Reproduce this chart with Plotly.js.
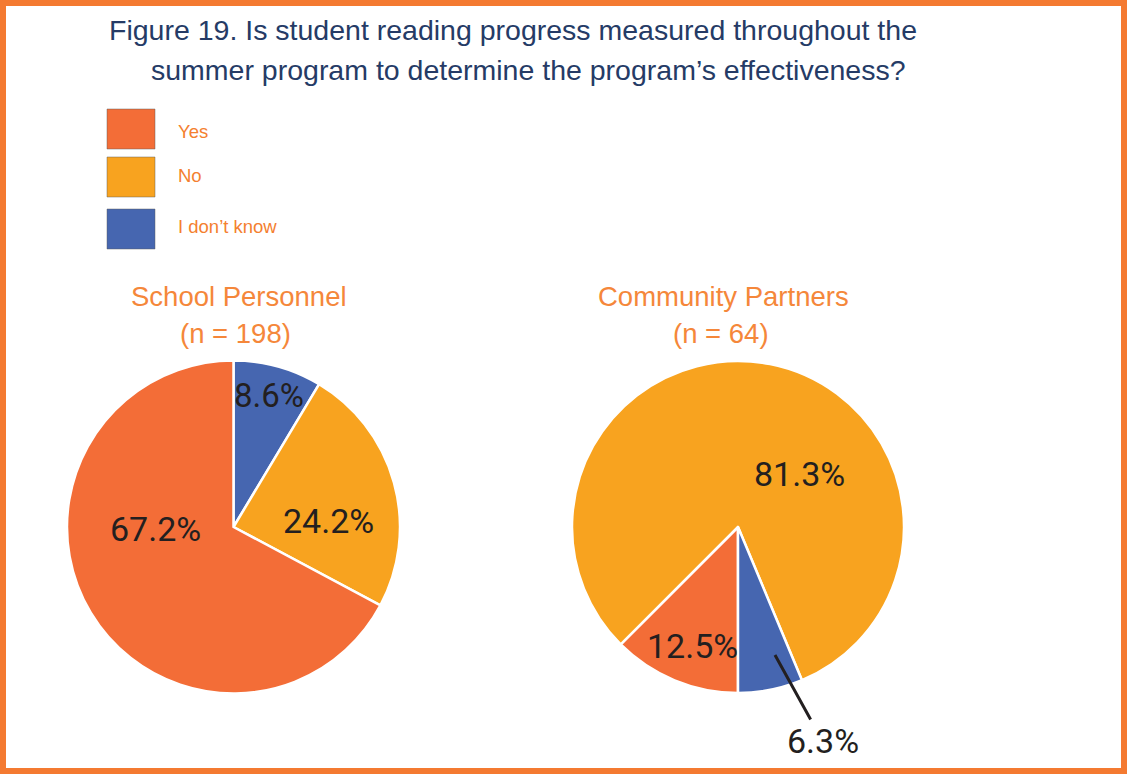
<!DOCTYPE html>
<html>
<head>
<meta charset="utf-8">
<script src="https://cdn.plot.ly/plotly-3.0.1.min.js"></script>
<style>
  html, body { margin: 0; padding: 0; background: #ffffff; }
  #chart { width: 1127px; height: 774px; }
</style>
</head>
<body>
<div id="chart"></div>
<script>
// ---------- data ----------
const categories = ['Yes', 'No', 'I don\u2019t know'];
const schoolValues = [67.2, 24.2, 8.6];
const communityValues = [12.5, 81.3, 6.3];
const groupNames = ['School Personnel', 'Community Partners'];
const groupSizes = [198, 64];
const titleLines = ['Figure 19. Is student reading progress measured throughout the',
                    'summer program to determine the program\u2019s effectiveness?'];

// ---------- styling / layout constants ----------
const W = 1127, H = 774;
const sliceColors = ['#F36D37', '#F8A31F', '#4666B0'];
const titleColor = '#253B66';
const orangeText = '#F4802F';
const subtitleColor = '#F5873A';
const labelColor = '#231F20';
const borderColor = '#F47A31';
const baseFont = '"Liberation Sans", Arial, sans-serif';
const labelFont = 'Roboto, "Liberation Sans", sans-serif';

function fx(px) { return px / W; }
function fy(py) { return 1 - py / H; }

// pie geometry (pixels); order: slice draw order as index list into categories
const pies = [
  { cx: 233.5, cy: 527, r: 166.5, rotation: 0, order: [2, 1, 0],
    values: schoolValues, subX: 238.5,
    labelPos: { 0: [155, 529], 1: [328.5, 521], 2: [269, 395] }, labelSize: { 2: 33 } },
  { cx: 738, cy: 527, r: 166, rotation: 180, order: [0, 1, 2],
    values: communityValues, subX: 723.5,
    labelPos: { 0: [692, 645.5], 1: [799.5, 474] }, labelSize: {} }
];
// outside label with leader line (community "I don't know")
const leader = { tip: [775, 655], text: [822.5, 741], idx: 2 };

const legendBoxes = { x0: 107, x1: 155, rows: [[109, 149], [157, 197], [209, 249]], textX: 176, textY: [131, 175, 227] };

function fmt(v) { return v.toFixed(1) + '%'; }

const traces = pies.map(function (p, k) {
  return {
    type: 'pie',
    labels: p.order.map(function (i) { return categories[i]; }),
    values: p.order.map(function (i) { return p.values[i]; }),
    sort: false,
    direction: 'clockwise',
    rotation: p.rotation,
    textinfo: 'none',
    hoverinfo: 'label+percent',
    showlegend: false,
    marker: { colors: p.order.map(function (i) { return sliceColors[i]; }), line: { color: '#ffffff', width: 2.5 } },
    domain: { x: [fx(p.cx - p.r), fx(p.cx + p.r)], y: [fy(p.cy + p.r), fy(p.cy - p.r)] },
    name: groupNames[k]
  };
});

const annotations = [];
// second title line
annotations.push({ xref: 'paper', yref: 'paper', x: fx(528.5), y: fy(69.5), xanchor: 'center', yanchor: 'middle',
  text: titleLines[1], showarrow: false, font: { family: baseFont, size: 28.5, color: titleColor } });
// subtitles
pies.forEach(function (p, k) {
  annotations.push({ xref: 'paper', yref: 'paper', x: fx(p.subX), y: fy(296), xanchor: 'center', yanchor: 'middle',
    text: groupNames[k], showarrow: false, font: { family: baseFont, size: 27.5, color: subtitleColor } });
  annotations.push({ xref: 'paper', yref: 'paper', x: fx(p.subX - 3), y: fy(333), xanchor: 'center', yanchor: 'middle',
    text: '(n = ' + groupSizes[k] + ')', showarrow: false, font: { family: baseFont, size: 27.5, color: subtitleColor } });
  // slice labels
  Object.keys(p.labelPos).forEach(function (key) {
    const i = +key, pos = p.labelPos[key];
    annotations.push({ xref: 'paper', yref: 'paper', x: fx(pos[0]), y: fy(pos[1]), xanchor: 'center', yanchor: 'middle',
      text: fmt(p.values[i]), showarrow: false, font: { family: labelFont, size: p.labelSize[key] || 34, color: labelColor } });
  });
});
// leader-line label
annotations.push({ xref: 'paper', yref: 'paper', x: fx(leader.tip[0]), y: fy(leader.tip[1]),
  ax: leader.text[0] - leader.tip[0], ay: leader.text[1] - leader.tip[1],
  text: fmt(communityValues[leader.idx]), showarrow: true, arrowhead: 0, arrowwidth: 3, arrowcolor: labelColor,
  font: { family: labelFont, size: 34, color: labelColor } });
// legend labels
categories.forEach(function (c, i) {
  annotations.push({ xref: 'paper', yref: 'paper', x: fx(legendBoxes.textX), y: fy(legendBoxes.textY[i]), xanchor: 'left', yanchor: 'middle',
    text: c, showarrow: false, font: { family: baseFont, size: 18.5, color: orangeText } });
});

const shapes = [
  { type: 'rect', xref: 'paper', yref: 'paper', x0: fx(3), x1: fx(W - 3), y0: fy(H - 3), y1: fy(3),
    line: { color: borderColor, width: 6 }, fillcolor: 'rgba(0,0,0,0)' }
];
legendBoxes.rows.forEach(function (r, i) {
  shapes.push({ type: 'rect', xref: 'paper', yref: 'paper', x0: fx(legendBoxes.x0), x1: fx(legendBoxes.x1), y0: fy(r[1]), y1: fy(r[0]),
    fillcolor: sliceColors[i], line: { color: 'rgba(90,90,90,0.45)', width: 1 } });
});

const layout = {
  width: W, height: H,
  margin: { l: 0, r: 0, t: 0, b: 0 },
  paper_bgcolor: '#ffffff',
  showlegend: false,
  title: { text: titleLines[0], x: fx(513), xref: 'paper', xanchor: 'center', y: fy(30), yref: 'paper', yanchor: 'middle',
    font: { family: baseFont, size: 28.5, color: titleColor } },
  annotations: annotations,
  shapes: shapes
};

Plotly.newPlot('chart', traces, layout, { displayModeBar: false, staticPlot: true });
</script>
</body>
</html>
